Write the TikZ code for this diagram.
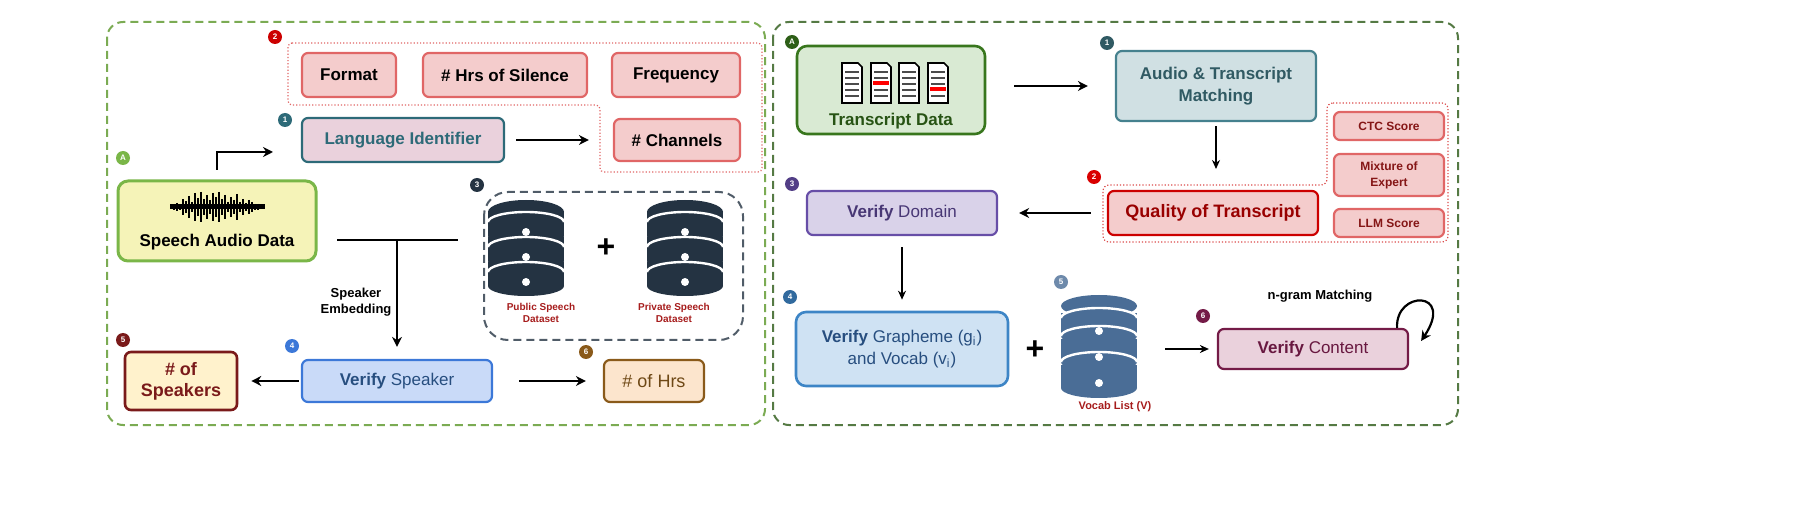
\documentclass[tikz,border=0pt]{standalone}
\usepackage{fontspec}
\setmainfont{Liberation Sans}
\usetikzlibrary{arrows.meta,positioning,calc,fit}

\definecolor{redfill}{HTML}{F4CCCC}
\definecolor{redline}{HTML}{E06666}
\definecolor{tealline}{HTML}{2D6A78}
\definecolor{pinkfill}{HTML}{EAD1DC}
\definecolor{yelfill}{HTML}{F5F3B8}
\definecolor{grnline}{HTML}{7AB648}
\definecolor{bluefill}{HTML}{C9DAF8}
\definecolor{blueline}{HTML}{3C78D8}
\definecolor{bluetext}{HTML}{274E7F}
\definecolor{cremefill}{HTML}{FFF2CC}
\definecolor{maroon}{HTML}{7A1A1A}
\definecolor{orgfill}{HTML}{FCE5CD}
\definecolor{brown}{HTML}{8A5A1A}
\definecolor{dkgreen}{HTML}{38761D}
\definecolor{ltgreen}{HTML}{D9EAD3}
\definecolor{tealfill}{HTML}{D0E0E3}
\definecolor{tealbox}{HTML}{45818E}
\definecolor{qred}{HTML}{CC0000}
\definecolor{purfill}{HTML}{D9D2E9}
\definecolor{purline}{HTML}{674EA7}
\definecolor{gblue}{HTML}{CFE2F3}
\definecolor{gline}{HTML}{3D85C6}
\definecolor{plum}{HTML}{741B47}
\definecolor{dbdark}{HTML}{243342}
\definecolor{dbblue}{HTML}{4A6D96}
\definecolor{darkred}{HTML}{A61C1C}

\begin{document}
\begin{tikzpicture}[x=0.5pt,y=-0.5pt,
  box/.style={rectangle, rounded corners=3pt, line width=1.1pt, align=center, font=\bfseries\fontsize{8.5}{10}\selectfont, inner sep=1pt},
  redbox/.style={box, draw=redline, fill=redfill},
  smallred/.style={box, draw=redline, fill=redfill, font=\bfseries\fontsize{6}{7.5}\selectfont, text=darkred!80!black},
  badge/.style={circle, fill=#1, text=white, inner sep=0pt, minimum size=7pt, font=\bfseries\fontsize{4}{4}\selectfont},
  panel/.style={draw=#1, dashed, line width=1pt, rounded corners=8pt, dash pattern=on 4pt off 2.5pt},
  arr/.style={-{Stealth[length=5pt,width=5pt]}, line width=1.1pt},
  thinarr/.style={-{Stealth[length=4.5pt,width=4pt]}, line width=0.7pt},
  small/.style={font=\bfseries\fontsize{5}{6}\selectfont, text=darkred, align=center},
]
\useasboundingbox (0,0) rectangle (1800,518);

% Panels
\draw[panel=grnline!80!gray] (107,22) rectangle (765,425);
\draw[panel=dkgreen!60!gray] (773,22) rectangle (1458,425);

% ---------- left panel ----------
\draw[redline, densely dotted, line width=0.6pt, rounded corners=2pt]
  (288,43) -- (762,43) -- (762,172) -- (600,172) -- (600,105) -- (288,105) -- cycle;
\node[badge=red!80!black] (b2) at (275,37) {2};
\node[redbox, minimum width=47pt, minimum height=22pt] (format) at (349,75) {Format};
\node[redbox, minimum width=82pt, minimum height=22pt] (silence) at (505,75) {\# Hrs of Silence};
\node[redbox, minimum width=64pt, minimum height=22pt] (freq) at (676,75) {Frequency};
\node[redbox, minimum width=63pt, minimum height=21pt] (chan) at (677,140) {\# Channels};

\node[badge=tealline] (b1) at (285,120) {1};
\node[box, draw=tealline, fill=pinkfill, text=tealline, minimum width=101pt, minimum height=22pt] (langid) at (403,140) {Language Identifier};
\draw[arr] ($(langid.east)+(11,0)$) -- ($(chan.west)+(-24,0)$);

\node[badge=grnline] (bA) at (123,158) {A};
\node[box, draw=grnline, fill=yelfill, line width=1.5pt, minimum width=99pt, minimum height=40pt, rounded corners=5pt] (speech) at (217,221) {};
\node[font=\bfseries\fontsize{8.5}{10}\selectfont] (speechtxt) at (217,242) {Speech Audio Data};
% waveform
\foreach \i/\h in {0/2,1/3,2/4,3/3,4/8,5/6,6/11,7/5,8/14,9/9,10/15,11/8,12/12,13/7,14/14,15/10,16/15,17/8,18/12,19/5,20/10,21/7,22/13,23/5,24/8,25/4,26/7,27/5,28/3,29/3,30/2,31/2}
  \draw[line width=1.3pt] (171+\i*3,207-\h) -- (171+\i*3,207+\h);
\draw[line width=2.5pt] (170,207) -- (265,207);

\draw[arr] (217,170) -- (217,152) -- (273,152);
\coordinate (t0) at (337,240);
\coordinate (t1) at (458,240);
\draw[line width=1.1pt] (t0) -- (t1);

\node[badge=dbdark] (b3) at (477,185) {3};
\draw[dbdark!80, dashed, line width=1pt, rounded corners=12pt, dash pattern=on 4pt off 2.5pt] (484,192) rectangle (743,340);
\foreach \cx/\nm in {526/pub,685/priv}{
  \foreach \k in {2,1,0}{
    \fill[dbdark] (\cx-38,212+\k*25) rectangle (\cx+38,236+\k*25);
    \fill[dbdark] (\cx,236+\k*25) ellipse (38 and 10);
    \fill[white] (\cx,232+\k*25) circle (4);
  }
  \fill[dbdark] (\cx,212) ellipse (38 and 12);
  \draw[white, line width=1.2pt] (\cx-38,222) arc (180:360:38 and 10);
  \draw[white, line width=1.2pt] (\cx-38,247) arc (180:360:38 and 10);
  \draw[white, line width=1.2pt] (\cx-38,272) arc (180:360:38 and 10);
  \coordinate (\nm) at (\cx,240);
}
\node[font=\bfseries\fontsize{16}{16}\selectfont] (plusL) at (606,248) {+};
\node[small] (publbl) at (541,313) {Public Speech\\Dataset};
\node[small] (privlbl) at (674,313) {Private Speech\\Dataset};

\node[badge=maroon] (b5) at (123,340) {5};
\node[box, draw=maroon, fill=cremefill, text=maroon, line width=1.3pt, minimum width=56pt, minimum height=29pt, font=\bfseries\fontsize{9}{10.5}\selectfont] (nspk) at (181,381) {\# of\\Speakers};
\node[badge=blueline] (b4) at (292,346) {4};
\node[box, draw=blueline, fill=bluefill, text=bluetext, minimum width=95pt, minimum height=21pt, font=\fontsize{8.5}{10}\selectfont] (vspk) at (397,381) {\textbf{Verify} Speaker};
\node[badge=brown] (b6) at (586,352) {6};
\node[box, draw=brown, fill=orgfill, text=brown!80!black, minimum width=50pt, minimum height=21pt, font=\fontsize{9}{10}\selectfont] (nhrs) at (654,381) {\# of Hrs};

\draw[arr] (397,240) -- ($(vspk.north)+(0,-12)$);
\node[font=\bfseries\fontsize{6.5}{8}\selectfont, align=center] (embed) at (356,302) {Speaker\\Embedding};
\draw[arr] ($(vspk.west)+(-2,0)$) -- ($(nspk.east)+(13,0)$);
\draw[arr] ($(vspk.east)+(26,0)$) -- ($(nhrs.west)+(-17,0)$);

% ---------- right panel ----------
\node[badge=dkgreen!80!black] (rA) at (792,42) {A};
\node[box, draw=dkgreen, fill=ltgreen, minimum width=94pt, minimum height=44pt, line width=1.3pt, rounded corners=5pt] (trans) at (891,90) {};
\node[font=\bfseries\fontsize{8.5}{10}\selectfont, text=dkgreen!70!black] (transtxt) at (891,121) {Transcript Data};
\foreach \dx/\red in {852/0,881/1,909/0,938/2}{
  \draw[line width=0.8pt, fill=white] (\dx-10,63) -- (\dx+6,63) -- (\dx+10,67) -- (\dx+10,103) -- (\dx-10,103) -- cycle;
  \foreach \ly in {72,78,84,90,96}
    \draw[gray!60!black, line width=0.7pt] (\dx-7,\ly) -- (\dx+7,\ly);
  \ifnum\red=1 \fill[red] (\dx-8,81) rectangle (\dx+8,85); \fi
  \ifnum\red=2 \fill[red] (\dx-8,87) rectangle (\dx+8,91); \fi
}
\node[badge=tealbox!70!black] (r1) at (1107,43) {1};
\node[box, draw=tealbox, fill=tealfill, text=tealbox!70!black, minimum width=100pt, minimum height=35pt, font=\bfseries\fontsize{8.5}{11}\selectfont] (match) at (1216,86) {Audio \& Transcript\\Matching};
\draw[arr] (1014,86) -- ($(match.west)+(-27,0)$);

\draw[qred!70, densely dotted, line width=0.6pt, rounded corners=3pt]
  (1327,103) -- (1448,103) -- (1448,242) -- (1103,242) -- (1103,185) -- (1327,185) -- cycle;
\node[smallred, minimum width=55pt, minimum height=14pt] (ctc) at (1389,126) {CTC Score};
\node[smallred, minimum width=55pt, minimum height=21pt, font=\bfseries\fontsize{6}{8}\selectfont] (moe) at (1389,175) {Mixture of\\Expert};
\node[smallred, minimum width=55pt, minimum height=14pt] (llm) at (1389,223) {LLM Score};
\node[badge=red!85!black] (r2) at (1094,177) {2};
\node[box, draw=qred, fill=redfill, text=qred!75!black, minimum width=105pt, minimum height=22pt, font=\bfseries\fontsize{9}{10}\selectfont] (quality) at (1213,213) {Quality of Transcript};
\draw[thinarr, line width=1pt] ($(match.south)+(0,4)$) -- (1216,169);

\node[badge=purline!80!black] (r3) at (792,184) {3};
\node[box, draw=purline, fill=purfill, text=purline!70!black, minimum width=95pt, minimum height=22pt, font=\fontsize{8.5}{10}\selectfont] (vdom) at (902,213) {\textbf{Verify} Domain};
\draw[arr] ($(quality.west)+(-16,0)$) -- ($(vdom.east)+(21,0)$);

\node[badge=gline!80!black] (r4) at (790,297) {4};
\node[box, draw=gline, fill=gblue, text=bluetext, minimum width=106pt, minimum height=37pt, line width=1.3pt, rounded corners=5pt, font=\fontsize{8.5}{11}\selectfont] (vgraph) at (902,349) {\textbf{Verify} Grapheme (g\textsubscript{i})\\and Vocab (v\textsubscript{i})};
\draw[thinarr, line width=1pt] ($(vdom.south)+(0,11)$) -- ($(vgraph.north)+(0,-11)$);
\node[font=\bfseries\fontsize{16}{16}\selectfont] (plusR) at (1035,350) {+};

\node[badge=dbblue!80] (r5) at (1061,282) {5};
\foreach \k in {2,1,0}{
  \fill[dbblue] (1061,313+\k*26) rectangle (1137,336+\k*26);
  \fill[dbblue] (1099,336+\k*26) ellipse (38 and 10);
  \fill[white] (1099,331+\k*26) circle (4);
}
\fill[dbblue] (1099,306) ellipse (38 and 11);
\draw[white, line width=1.2pt] (1061,318) arc (180:360:38 and 10);
\draw[white, line width=1.2pt] (1061,336) arc (180:360:38 and 10);
\draw[white, line width=1.2pt] (1061,362) arc (180:360:38 and 10);
\coordinate (vocab) at (1099,349);
\node[small, font=\bfseries\fontsize{5.5}{6}\selectfont] (vocablbl) at (1115,407) {Vocab List (V)};

\node[badge=plum] (r6) at (1203,316) {6};
\node[box, draw=plum, fill=pinkfill, text=plum!90!black, minimum width=95pt, minimum height=20pt, font=\fontsize{8.5}{10}\selectfont] (vcont) at (1313,349) {\textbf{Verify} Content};
\draw[thinarr] ($(vocab)+(66,0)$) -- ($(vcont.west)+(-8,0)$);
\node[font=\bfseries\fontsize{6.5}{8}\selectfont] (ngram) at (1320,296) {n-gram Matching};
\draw[-{Stealth[length=5pt,width=5pt]}, line width=1.1pt] ($(vcont.north east)+(-12,0)$) .. controls (1395,290) and (1455,290) .. ($(vcont.east)+(12,-8)$);

\end{tikzpicture}
\end{document}
